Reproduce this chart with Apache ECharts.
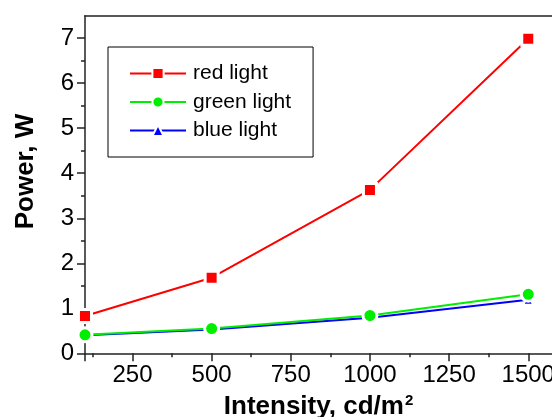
<!DOCTYPE html>
<html>
<head>
<meta charset="utf-8">
<script src="https://cdn.jsdelivr.net/npm/echarts@6/dist/echarts.min.js"></script>
<style>
html,body{margin:0;padding:0;background:#fff;}
#c{width:552px;height:417px;}
</style>
</head>
<body>
<div id="c"></div>
<script>
const intensity = [100, 500, 1000, 1500];
const redLight = [0.83, 1.68, 3.63, 6.99];
const greenLight = [0.41, 0.55, 0.84, 1.31];
const blueLight = [0.40, 0.53, 0.79, 1.19];
const xMajorTicks = [100, 250, 500, 750, 1000, 1250, 1500];
const xLabels = [250, 500, 750, 1000, 1250, 1500];
const xMinorTicks = [125, 375, 625, 875, 1125, 1375];
const yLabels = [0, 1, 2, 3, 4, 5, 6, 7];
const yMinorTicks = [0.5, 1.5, 2.5, 3.5, 4.5, 5.5, 6.5];

const FONT = 'Liberation Sans, Arial, sans-serif';
const AX = '#222';
const pair = arr => intensity.map((x, i) => [x, arr[i]]);
const plain = v => String(v);

const chart = echarts.init(document.getElementById('c'), null, {renderer: 'canvas'});
chart.setOption({
  animation: false,
  backgroundColor: '#fff',
  textStyle: {fontFamily: FONT},
  grid: {left: 85, top: 15.7, right: 0, bottom: 63.7, containLabel: false, outerBoundsMode: 'none'},
  legend: {
    orient: 'vertical', left: 108, top: 47,
    padding: [16, 22, 16, 21],
    itemWidth: 56, itemHeight: 14, itemGap: 7.5,
    borderColor: '#000', borderWidth: 1,
    textStyle: {fontFamily: FONT, fontSize: 21, color: '#000', padding: [0, 0, 0, 2]},
    data: ['red light', 'green light', 'blue light']
  },
  xAxis: [
    {
      type: 'value', min: 100, max: 1575, position: 'bottom',
      name: 'Intensity, cd/m{sup|2}', nameLocation: 'middle', nameGap: 40,
      nameTextStyle: {fontFamily: FONT, fontSize: 26, fontWeight: 'bold', color: '#000',
        rich: {sup: {fontSize: 15, fontWeight: 'bold', verticalAlign: 'top', padding: [0, 0, 12, 1], fontFamily: FONT, color: '#000'}}},
      axisLine: {show: true, lineStyle: {color: AX, width: 1.5}},
      axisTick: {show: true, length: 8, customValues: xMajorTicks, lineStyle: {color: AX, width: 1.5}},
      axisLabel: {customValues: xLabels, formatter: plain, fontSize: 24, color: '#000', margin: 10, fontFamily: FONT},
      splitLine: {show: false}
    },
    {
      type: 'value', min: 100, max: 1575, position: 'bottom',
      axisLine: {show: false},
      axisTick: {show: true, length: 4, customValues: xMinorTicks, lineStyle: {color: AX, width: 1.5}},
      axisLabel: {show: false},
      splitLine: {show: false}
    },
    {
      type: 'value', min: 100, max: 1575, position: 'top',
      axisLine: {show: true, lineStyle: {color: AX, width: 1.5}},
      axisTick: {show: false}, axisLabel: {show: false}, splitLine: {show: false}
    }
  ],
  yAxis: [
    {
      type: 'value', min: 0, max: 7.5, position: 'left',
      name: 'Power, W', nameLocation: 'middle', nameGap: 46, nameRotate: 90,
      nameTextStyle: {fontFamily: FONT, fontSize: 26, fontWeight: 'bold', color: '#000', padding: [0, 0, 0, 26]},
      axisLine: {show: true, lineStyle: {color: AX, width: 1.5}},
      axisTick: {show: true, length: 8, customValues: yLabels, lineStyle: {color: AX, width: 1.5}},
      axisLabel: {customValues: yLabels, formatter: plain, fontSize: 24, color: '#000', margin: 11, fontFamily: FONT},
      splitLine: {show: false}
    },
    {
      type: 'value', min: 0, max: 7.5, position: 'left',
      axisLine: {show: false},
      axisTick: {show: true, length: 4, customValues: yMinorTicks, lineStyle: {color: AX, width: 1.5}},
      axisLabel: {show: false},
      splitLine: {show: false}
    }
  ],
  series: [
    {
      name: 'blue light', type: 'line', xAxisIndex: 0, yAxisIndex: 0,
      data: pair(blueLight), symbol: 'triangle', symbolSize: 10,
      lineStyle: {color: '#0000ff', width: 2},
      itemStyle: {color: '#0000ff', borderColor: '#fff', borderWidth: 2}
    },
    {
      name: 'green light', type: 'line', xAxisIndex: 0, yAxisIndex: 0,
      data: pair(greenLight), symbol: 'circle', symbolSize: 14,
      lineStyle: {color: '#00ee00', width: 2},
      itemStyle: {color: '#00ee00', borderColor: '#fff', borderWidth: 3}
    },
    {
      name: 'red light', type: 'line', xAxisIndex: 0, yAxisIndex: 0,
      data: pair(redLight), symbol: 'rect', symbolSize: 13,
      lineStyle: {color: '#ff0000', width: 2},
      itemStyle: {color: '#ff0000', borderColor: '#fff', borderWidth: 3}
    }
  ]
});
</script>
</body>
</html>
